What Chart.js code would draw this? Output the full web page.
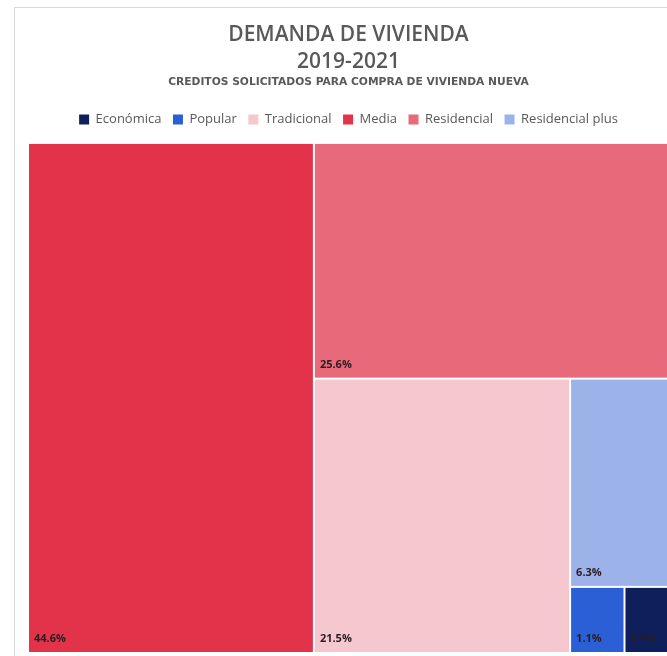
<!DOCTYPE html>
<html>
<head>
<meta charset="utf-8">
<script src="https://cdn.jsdelivr.net/npm/chart.js@4"></script>
<style>
  html, body { margin: 0; padding: 0; background: #fff; overflow: hidden; }
  #frame {
    position: absolute; left: 14px; top: 7px;
    width: 669px; height: 660px;
    border-top: 1px solid #d9d9d9; border-left: 1px solid #d9d9d9;
  }
  #wrap { position: relative; width: 669px; height: 649px; }
</style>
</head>
<body>
<div id="frame">
  <div id="wrap"><canvas id="treeChart"></canvas></div>
</div>
<script>
// categorias y porcentajes (orden de la leyenda)
const categories = ['Económica', 'Popular', 'Tradicional', 'Media', 'Residencial', 'Residencial plus'];
const shares = [0.9, 1.1, 21.5, 44.6, 25.6, 6.3];
const colors = ['#0f1f5c', '#2b5fd6', '#f5c7cf', '#e2334a', '#e8697a', '#9cb3ea'];

const titleLines = ['DEMANDA DE VIVIENDA', '2019-2021'];
const subtitleText = 'CREDITOS SOLICITADOS PARA COMPRA DE VIVIENDA NUEVA';

// squarified treemap, en pixeles
function worst(row, side) {
  let s = 0, mx = -Infinity, mn = Infinity;
  row.forEach(r => { s += r.area; mx = Math.max(mx, r.area); mn = Math.min(mn, r.area); });
  return Math.max(side * side * mx / (s * s), (s * s) / (side * side * mn));
}

function squarify(items, rect) {
  const total = items.reduce((a, b) => a + b.value, 0);
  let remaining = items
    .map(it => ({ ...it, area: it.value / total * rect.w * rect.h }))
    .sort((a, b) => b.area - a.area);
  const out = [];
  while (remaining.length) {
    const side = Math.min(rect.w, rect.h);
    let row = [remaining[0]];
    let i = 1;
    while (i < remaining.length && worst(row.concat([remaining[i]]), side) <= worst(row, side)) {
      row.push(remaining[i]);
      i++;
    }
    const rowArea = row.reduce((a, b) => a + b.area, 0);
    if (rect.w >= rect.h) {
      const cw = rowArea / rect.h;
      let cy = rect.y;
      row.forEach(it => {
        const hh = it.area / cw;
        out.push({ ...it, x: rect.x, y: cy, w: cw, h: hh });
        cy += hh;
      });
      rect = { x: rect.x + cw, y: rect.y, w: rect.w - cw, h: rect.h };
    } else {
      const rh = rowArea / rect.w;
      let cx = rect.x;
      row.forEach(it => {
        const ww = it.area / rh;
        out.push({ ...it, x: cx, y: rect.y, w: ww, h: rh });
        cx += ww;
      });
      rect = { x: rect.x, y: rect.y + rh, w: rect.w, h: rect.h - rh };
    }
    remaining = remaining.slice(row.length);
  }
  return out;
}

const treemapPlugin = {
  id: 'treemapPlugin',
  beforeDatasetsDraw(chart) {
    const ctx = chart.ctx;
    const xs = chart.scales.x, ys = chart.scales.y;
    const left = xs.getPixelForValue(0), right = xs.getPixelForValue(100);
    const top = ys.getPixelForValue(100), bottom = ys.getPixelForValue(0);
    const items = categories.map((c, i) => ({ label: c, value: shares[i], color: colors[i] }));
    const rects = squarify(items, { x: left, y: top, w: right - left, h: bottom - top });
    ctx.save();
    rects.forEach(r => {
      ctx.fillStyle = r.color;
      ctx.fillRect(r.x + 1, r.y + 1, r.w - 2, r.h - 2);
    });
    ctx.font = 'bold 11px "Open Sans", sans-serif';
    ctx.fillStyle = '#2a1c22';
    ctx.textBaseline = 'middle';
    ctx.textAlign = 'left';
    rects.forEach(r => {
      ctx.fillText(r.value.toFixed(1) + '%', r.x + 6, r.y + r.h - 14);
    });
    ctx.restore();
  }
};

const datasets = categories.map((c, i) => ({
  label: c,
  data: [],
  backgroundColor: colors[i],
  borderColor: colors[i],
  borderWidth: 0
}));

new Chart(document.getElementById('treeChart'), {
  type: 'scatter',
  data: { datasets: datasets },
  options: {
    responsive: true,
    maintainAspectRatio: false,
    animation: false,
    layout: { padding: { left: 13, right: 15, top: 0, bottom: 4 } },
    scales: {
      x: {
        type: 'linear', min: 0, max: 100, position: 'top',
        ticks: { display: false }, grid: { display: false }, border: { display: false },
        // hueco entre la leyenda y el treemap
        afterFit: function (scale) { scale.height = 7; }
      },
      y: { type: 'linear', min: 0, max: 100, display: false }
    },
    plugins: {
      title: {
        display: true,
        text: titleLines,
        color: '#595959',
        font: { family: '"Open Sans", sans-serif', size: 21, weight: '600', lineHeight: 1.3 },
        padding: { top: 13, bottom: 0 }
      },
      subtitle: {
        display: true,
        text: subtitleText,
        color: '#595959',
        font: { family: '"DejaVu Sans", sans-serif', size: 10.7, weight: 'bold', lineHeight: 1.2 },
        padding: { top: 0, bottom: 13 }
      },
      legend: {
        display: true,
        position: 'top',
        labels: {
          color: '#595959',
          boxWidth: 10,
          boxHeight: 10,
          padding: 11.5,
          font: { family: '"Open Sans", sans-serif', size: 13 }
        }
      },
      tooltip: { enabled: false }
    }
  },
  plugins: [treemapPlugin]
});
</script>
</body>
</html>
